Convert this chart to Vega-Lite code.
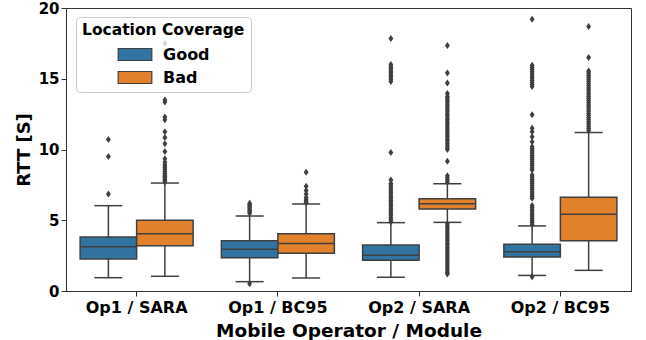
{
  "$schema": "https://vega.github.io/schema/vega-lite/v6.json",
  "width": 565,
  "height": 283,
  "autosize": "none",
  "padding": {"left": 66, "top": 8, "right": 15, "bottom": 49},
  "datasets": {
    "boxes": [
      {"group": "Op1 / SARA", "coverage": "Good", "lower": 0.94, "q1": 2.26, "median": 3.13, "q3": 3.82, "upper": 6.03},
      {"group": "Op1 / SARA", "coverage": "Bad", "lower": 1.04, "q1": 3.2, "median": 4.05, "q3": 5.0, "upper": 7.63},
      {"group": "Op1 / BC95", "coverage": "Good", "lower": 0.66, "q1": 2.35, "median": 2.95, "q3": 3.55, "upper": 5.3},
      {"group": "Op1 / BC95", "coverage": "Bad", "lower": 0.92, "q1": 2.66, "median": 3.35, "q3": 4.05, "upper": 6.15},
      {"group": "Op2 / SARA", "coverage": "Good", "lower": 0.97, "q1": 2.17, "median": 2.52, "q3": 3.25, "upper": 4.83},
      {"group": "Op2 / SARA", "coverage": "Bad", "lower": 4.85, "q1": 5.8, "median": 6.17, "q3": 6.52, "upper": 7.58},
      {"group": "Op2 / BC95", "coverage": "Good", "lower": 1.1, "q1": 2.4, "median": 2.78, "q3": 3.3, "upper": 4.6},
      {"group": "Op2 / BC95", "coverage": "Bad", "lower": 1.46, "q1": 3.56, "median": 5.42, "q3": 6.62, "upper": 11.2}
    ],
    "outliers": [
      {"group": "Op1 / SARA", "coverage": "Good", "rtt": 6.85},
      {"group": "Op1 / SARA", "coverage": "Good", "rtt": 9.5},
      {"group": "Op1 / SARA", "coverage": "Good", "rtt": 10.7},
      {"group": "Op1 / SARA", "coverage": "Bad", "rtt": 7.7},
      {"group": "Op1 / SARA", "coverage": "Bad", "rtt": 7.8},
      {"group": "Op1 / SARA", "coverage": "Bad", "rtt": 7.9},
      {"group": "Op1 / SARA", "coverage": "Bad", "rtt": 8.0},
      {"group": "Op1 / SARA", "coverage": "Bad", "rtt": 8.1},
      {"group": "Op1 / SARA", "coverage": "Bad", "rtt": 8.2},
      {"group": "Op1 / SARA", "coverage": "Bad", "rtt": 8.3},
      {"group": "Op1 / SARA", "coverage": "Bad", "rtt": 8.45},
      {"group": "Op1 / SARA", "coverage": "Bad", "rtt": 8.6},
      {"group": "Op1 / SARA", "coverage": "Bad", "rtt": 8.75},
      {"group": "Op1 / SARA", "coverage": "Bad", "rtt": 8.9},
      {"group": "Op1 / SARA", "coverage": "Bad", "rtt": 9.1},
      {"group": "Op1 / SARA", "coverage": "Bad", "rtt": 9.35},
      {"group": "Op1 / SARA", "coverage": "Bad", "rtt": 9.85},
      {"group": "Op1 / SARA", "coverage": "Bad", "rtt": 10.4},
      {"group": "Op1 / SARA", "coverage": "Bad", "rtt": 10.85},
      {"group": "Op1 / SARA", "coverage": "Bad", "rtt": 11.25},
      {"group": "Op1 / SARA", "coverage": "Bad", "rtt": 12.1},
      {"group": "Op1 / SARA", "coverage": "Bad", "rtt": 12.3},
      {"group": "Op1 / SARA", "coverage": "Bad", "rtt": 13.35},
      {"group": "Op1 / SARA", "coverage": "Bad", "rtt": 13.5},
      {"group": "Op1 / SARA", "coverage": "Bad", "rtt": 17.5},
      {"group": "Op1 / BC95", "coverage": "Good", "rtt": 5.5},
      {"group": "Op1 / BC95", "coverage": "Good", "rtt": 5.6},
      {"group": "Op1 / BC95", "coverage": "Good", "rtt": 5.7},
      {"group": "Op1 / BC95", "coverage": "Good", "rtt": 5.8},
      {"group": "Op1 / BC95", "coverage": "Good", "rtt": 5.9},
      {"group": "Op1 / BC95", "coverage": "Good", "rtt": 6.0},
      {"group": "Op1 / BC95", "coverage": "Good", "rtt": 6.1},
      {"group": "Op1 / BC95", "coverage": "Good", "rtt": 6.2},
      {"group": "Op1 / BC95", "coverage": "Good", "rtt": 0.52},
      {"group": "Op1 / BC95", "coverage": "Bad", "rtt": 6.25},
      {"group": "Op1 / BC95", "coverage": "Bad", "rtt": 6.35},
      {"group": "Op1 / BC95", "coverage": "Bad", "rtt": 6.45},
      {"group": "Op1 / BC95", "coverage": "Bad", "rtt": 6.6},
      {"group": "Op1 / BC95", "coverage": "Bad", "rtt": 6.85},
      {"group": "Op1 / BC95", "coverage": "Bad", "rtt": 7.1},
      {"group": "Op1 / BC95", "coverage": "Bad", "rtt": 7.4},
      {"group": "Op1 / BC95", "coverage": "Bad", "rtt": 8.4},
      {"group": "Op2 / SARA", "coverage": "Good", "rtt": 4.9},
      {"group": "Op2 / SARA", "coverage": "Good", "rtt": 5.05},
      {"group": "Op2 / SARA", "coverage": "Good", "rtt": 5.2},
      {"group": "Op2 / SARA", "coverage": "Good", "rtt": 5.35},
      {"group": "Op2 / SARA", "coverage": "Good", "rtt": 5.5},
      {"group": "Op2 / SARA", "coverage": "Good", "rtt": 5.65},
      {"group": "Op2 / SARA", "coverage": "Good", "rtt": 5.8},
      {"group": "Op2 / SARA", "coverage": "Good", "rtt": 5.95},
      {"group": "Op2 / SARA", "coverage": "Good", "rtt": 6.1},
      {"group": "Op2 / SARA", "coverage": "Good", "rtt": 6.25},
      {"group": "Op2 / SARA", "coverage": "Good", "rtt": 6.4},
      {"group": "Op2 / SARA", "coverage": "Good", "rtt": 6.55},
      {"group": "Op2 / SARA", "coverage": "Good", "rtt": 6.7},
      {"group": "Op2 / SARA", "coverage": "Good", "rtt": 6.85},
      {"group": "Op2 / SARA", "coverage": "Good", "rtt": 7.0},
      {"group": "Op2 / SARA", "coverage": "Good", "rtt": 7.15},
      {"group": "Op2 / SARA", "coverage": "Good", "rtt": 7.3},
      {"group": "Op2 / SARA", "coverage": "Good", "rtt": 7.45},
      {"group": "Op2 / SARA", "coverage": "Good", "rtt": 7.6},
      {"group": "Op2 / SARA", "coverage": "Good", "rtt": 7.85},
      {"group": "Op2 / SARA", "coverage": "Good", "rtt": 9.78},
      {"group": "Op2 / SARA", "coverage": "Good", "rtt": 14.8},
      {"group": "Op2 / SARA", "coverage": "Good", "rtt": 14.95},
      {"group": "Op2 / SARA", "coverage": "Good", "rtt": 15.1},
      {"group": "Op2 / SARA", "coverage": "Good", "rtt": 15.25},
      {"group": "Op2 / SARA", "coverage": "Good", "rtt": 15.4},
      {"group": "Op2 / SARA", "coverage": "Good", "rtt": 15.55},
      {"group": "Op2 / SARA", "coverage": "Good", "rtt": 15.7},
      {"group": "Op2 / SARA", "coverage": "Good", "rtt": 15.85},
      {"group": "Op2 / SARA", "coverage": "Good", "rtt": 16.0},
      {"group": "Op2 / SARA", "coverage": "Good", "rtt": 17.85},
      {"group": "Op2 / SARA", "coverage": "Bad", "rtt": 4.75},
      {"group": "Op2 / SARA", "coverage": "Bad", "rtt": 4.6},
      {"group": "Op2 / SARA", "coverage": "Bad", "rtt": 4.45},
      {"group": "Op2 / SARA", "coverage": "Bad", "rtt": 4.3},
      {"group": "Op2 / SARA", "coverage": "Bad", "rtt": 4.15},
      {"group": "Op2 / SARA", "coverage": "Bad", "rtt": 4.0},
      {"group": "Op2 / SARA", "coverage": "Bad", "rtt": 3.85},
      {"group": "Op2 / SARA", "coverage": "Bad", "rtt": 3.7},
      {"group": "Op2 / SARA", "coverage": "Bad", "rtt": 3.55},
      {"group": "Op2 / SARA", "coverage": "Bad", "rtt": 3.4},
      {"group": "Op2 / SARA", "coverage": "Bad", "rtt": 3.25},
      {"group": "Op2 / SARA", "coverage": "Bad", "rtt": 3.1},
      {"group": "Op2 / SARA", "coverage": "Bad", "rtt": 2.95},
      {"group": "Op2 / SARA", "coverage": "Bad", "rtt": 2.8},
      {"group": "Op2 / SARA", "coverage": "Bad", "rtt": 2.65},
      {"group": "Op2 / SARA", "coverage": "Bad", "rtt": 2.5},
      {"group": "Op2 / SARA", "coverage": "Bad", "rtt": 2.35},
      {"group": "Op2 / SARA", "coverage": "Bad", "rtt": 2.2},
      {"group": "Op2 / SARA", "coverage": "Bad", "rtt": 2.05},
      {"group": "Op2 / SARA", "coverage": "Bad", "rtt": 1.9},
      {"group": "Op2 / SARA", "coverage": "Bad", "rtt": 1.75},
      {"group": "Op2 / SARA", "coverage": "Bad", "rtt": 1.6},
      {"group": "Op2 / SARA", "coverage": "Bad", "rtt": 1.45},
      {"group": "Op2 / SARA", "coverage": "Bad", "rtt": 1.3},
      {"group": "Op2 / SARA", "coverage": "Bad", "rtt": 1.2},
      {"group": "Op2 / SARA", "coverage": "Bad", "rtt": 7.7},
      {"group": "Op2 / SARA", "coverage": "Bad", "rtt": 7.85},
      {"group": "Op2 / SARA", "coverage": "Bad", "rtt": 8.0},
      {"group": "Op2 / SARA", "coverage": "Bad", "rtt": 8.15},
      {"group": "Op2 / SARA", "coverage": "Bad", "rtt": 9.17},
      {"group": "Op2 / SARA", "coverage": "Bad", "rtt": 10.0},
      {"group": "Op2 / SARA", "coverage": "Bad", "rtt": 10.15},
      {"group": "Op2 / SARA", "coverage": "Bad", "rtt": 10.3},
      {"group": "Op2 / SARA", "coverage": "Bad", "rtt": 10.45},
      {"group": "Op2 / SARA", "coverage": "Bad", "rtt": 10.6},
      {"group": "Op2 / SARA", "coverage": "Bad", "rtt": 10.75},
      {"group": "Op2 / SARA", "coverage": "Bad", "rtt": 10.9},
      {"group": "Op2 / SARA", "coverage": "Bad", "rtt": 11.05},
      {"group": "Op2 / SARA", "coverage": "Bad", "rtt": 11.2},
      {"group": "Op2 / SARA", "coverage": "Bad", "rtt": 11.35},
      {"group": "Op2 / SARA", "coverage": "Bad", "rtt": 11.5},
      {"group": "Op2 / SARA", "coverage": "Bad", "rtt": 11.65},
      {"group": "Op2 / SARA", "coverage": "Bad", "rtt": 11.8},
      {"group": "Op2 / SARA", "coverage": "Bad", "rtt": 11.95},
      {"group": "Op2 / SARA", "coverage": "Bad", "rtt": 12.1},
      {"group": "Op2 / SARA", "coverage": "Bad", "rtt": 12.25},
      {"group": "Op2 / SARA", "coverage": "Bad", "rtt": 12.4},
      {"group": "Op2 / SARA", "coverage": "Bad", "rtt": 12.55},
      {"group": "Op2 / SARA", "coverage": "Bad", "rtt": 12.7},
      {"group": "Op2 / SARA", "coverage": "Bad", "rtt": 12.85},
      {"group": "Op2 / SARA", "coverage": "Bad", "rtt": 13.0},
      {"group": "Op2 / SARA", "coverage": "Bad", "rtt": 13.15},
      {"group": "Op2 / SARA", "coverage": "Bad", "rtt": 13.3},
      {"group": "Op2 / SARA", "coverage": "Bad", "rtt": 13.45},
      {"group": "Op2 / SARA", "coverage": "Bad", "rtt": 13.6},
      {"group": "Op2 / SARA", "coverage": "Bad", "rtt": 13.75},
      {"group": "Op2 / SARA", "coverage": "Bad", "rtt": 13.95},
      {"group": "Op2 / SARA", "coverage": "Bad", "rtt": 14.7},
      {"group": "Op2 / SARA", "coverage": "Bad", "rtt": 15.4},
      {"group": "Op2 / SARA", "coverage": "Bad", "rtt": 17.35},
      {"group": "Op2 / BC95", "coverage": "Good", "rtt": 1.0},
      {"group": "Op2 / BC95", "coverage": "Good", "rtt": 4.7},
      {"group": "Op2 / BC95", "coverage": "Good", "rtt": 4.85},
      {"group": "Op2 / BC95", "coverage": "Good", "rtt": 5.0},
      {"group": "Op2 / BC95", "coverage": "Good", "rtt": 5.15},
      {"group": "Op2 / BC95", "coverage": "Good", "rtt": 5.3},
      {"group": "Op2 / BC95", "coverage": "Good", "rtt": 5.45},
      {"group": "Op2 / BC95", "coverage": "Good", "rtt": 5.6},
      {"group": "Op2 / BC95", "coverage": "Good", "rtt": 5.75},
      {"group": "Op2 / BC95", "coverage": "Good", "rtt": 5.9},
      {"group": "Op2 / BC95", "coverage": "Good", "rtt": 6.05},
      {"group": "Op2 / BC95", "coverage": "Good", "rtt": 6.55},
      {"group": "Op2 / BC95", "coverage": "Good", "rtt": 6.7},
      {"group": "Op2 / BC95", "coverage": "Good", "rtt": 6.85},
      {"group": "Op2 / BC95", "coverage": "Good", "rtt": 7.0},
      {"group": "Op2 / BC95", "coverage": "Good", "rtt": 7.15},
      {"group": "Op2 / BC95", "coverage": "Good", "rtt": 7.3},
      {"group": "Op2 / BC95", "coverage": "Good", "rtt": 7.45},
      {"group": "Op2 / BC95", "coverage": "Good", "rtt": 7.6},
      {"group": "Op2 / BC95", "coverage": "Good", "rtt": 7.75},
      {"group": "Op2 / BC95", "coverage": "Good", "rtt": 7.9},
      {"group": "Op2 / BC95", "coverage": "Good", "rtt": 8.05},
      {"group": "Op2 / BC95", "coverage": "Good", "rtt": 8.2},
      {"group": "Op2 / BC95", "coverage": "Good", "rtt": 8.55},
      {"group": "Op2 / BC95", "coverage": "Good", "rtt": 8.7},
      {"group": "Op2 / BC95", "coverage": "Good", "rtt": 8.85},
      {"group": "Op2 / BC95", "coverage": "Good", "rtt": 9.0},
      {"group": "Op2 / BC95", "coverage": "Good", "rtt": 9.15},
      {"group": "Op2 / BC95", "coverage": "Good", "rtt": 9.3},
      {"group": "Op2 / BC95", "coverage": "Good", "rtt": 9.45},
      {"group": "Op2 / BC95", "coverage": "Good", "rtt": 9.6},
      {"group": "Op2 / BC95", "coverage": "Good", "rtt": 9.75},
      {"group": "Op2 / BC95", "coverage": "Good", "rtt": 9.9},
      {"group": "Op2 / BC95", "coverage": "Good", "rtt": 10.05},
      {"group": "Op2 / BC95", "coverage": "Good", "rtt": 10.2},
      {"group": "Op2 / BC95", "coverage": "Good", "rtt": 10.55},
      {"group": "Op2 / BC95", "coverage": "Good", "rtt": 10.9},
      {"group": "Op2 / BC95", "coverage": "Good", "rtt": 11.26},
      {"group": "Op2 / BC95", "coverage": "Good", "rtt": 11.5},
      {"group": "Op2 / BC95", "coverage": "Good", "rtt": 12.46},
      {"group": "Op2 / BC95", "coverage": "Good", "rtt": 14.45},
      {"group": "Op2 / BC95", "coverage": "Good", "rtt": 14.6},
      {"group": "Op2 / BC95", "coverage": "Good", "rtt": 14.75},
      {"group": "Op2 / BC95", "coverage": "Good", "rtt": 14.9},
      {"group": "Op2 / BC95", "coverage": "Good", "rtt": 15.05},
      {"group": "Op2 / BC95", "coverage": "Good", "rtt": 15.2},
      {"group": "Op2 / BC95", "coverage": "Good", "rtt": 15.35},
      {"group": "Op2 / BC95", "coverage": "Good", "rtt": 15.5},
      {"group": "Op2 / BC95", "coverage": "Good", "rtt": 15.65},
      {"group": "Op2 / BC95", "coverage": "Good", "rtt": 15.8},
      {"group": "Op2 / BC95", "coverage": "Good", "rtt": 15.95},
      {"group": "Op2 / BC95", "coverage": "Good", "rtt": 19.2},
      {"group": "Op2 / BC95", "coverage": "Bad", "rtt": 11.35},
      {"group": "Op2 / BC95", "coverage": "Bad", "rtt": 11.5},
      {"group": "Op2 / BC95", "coverage": "Bad", "rtt": 11.65},
      {"group": "Op2 / BC95", "coverage": "Bad", "rtt": 11.8},
      {"group": "Op2 / BC95", "coverage": "Bad", "rtt": 11.95},
      {"group": "Op2 / BC95", "coverage": "Bad", "rtt": 12.1},
      {"group": "Op2 / BC95", "coverage": "Bad", "rtt": 12.25},
      {"group": "Op2 / BC95", "coverage": "Bad", "rtt": 12.4},
      {"group": "Op2 / BC95", "coverage": "Bad", "rtt": 12.55},
      {"group": "Op2 / BC95", "coverage": "Bad", "rtt": 12.7},
      {"group": "Op2 / BC95", "coverage": "Bad", "rtt": 12.85},
      {"group": "Op2 / BC95", "coverage": "Bad", "rtt": 13.0},
      {"group": "Op2 / BC95", "coverage": "Bad", "rtt": 13.15},
      {"group": "Op2 / BC95", "coverage": "Bad", "rtt": 13.3},
      {"group": "Op2 / BC95", "coverage": "Bad", "rtt": 13.45},
      {"group": "Op2 / BC95", "coverage": "Bad", "rtt": 13.6},
      {"group": "Op2 / BC95", "coverage": "Bad", "rtt": 13.75},
      {"group": "Op2 / BC95", "coverage": "Bad", "rtt": 13.9},
      {"group": "Op2 / BC95", "coverage": "Bad", "rtt": 14.05},
      {"group": "Op2 / BC95", "coverage": "Bad", "rtt": 14.2},
      {"group": "Op2 / BC95", "coverage": "Bad", "rtt": 14.35},
      {"group": "Op2 / BC95", "coverage": "Bad", "rtt": 14.5},
      {"group": "Op2 / BC95", "coverage": "Bad", "rtt": 14.65},
      {"group": "Op2 / BC95", "coverage": "Bad", "rtt": 14.8},
      {"group": "Op2 / BC95", "coverage": "Bad", "rtt": 14.95},
      {"group": "Op2 / BC95", "coverage": "Bad", "rtt": 15.1},
      {"group": "Op2 / BC95", "coverage": "Bad", "rtt": 15.25},
      {"group": "Op2 / BC95", "coverage": "Bad", "rtt": 15.4},
      {"group": "Op2 / BC95", "coverage": "Bad", "rtt": 15.55},
      {"group": "Op2 / BC95", "coverage": "Bad", "rtt": 16.5},
      {"group": "Op2 / BC95", "coverage": "Bad", "rtt": 18.7}
    ]
  },
  "encoding": {
    "x": {
      "field": "group",
      "type": "nominal",
      "sort": ["Op1 / SARA", "Op1 / BC95", "Op2 / SARA", "Op2 / BC95"],
      "scale": {"paddingInner": 0.2, "paddingOuter": 0.1},
      "axis": {
        "title": "Mobile Operator / Module",
        "labelAngle": 0,
        "labelFontSize": 16,
        "titleFontSize": 18.5,
        "labelPadding": 3,
        "titlePadding": 6,
        "tickSize": 5,
        "bandPosition": 0.5
      }
    },
    "xOffset": {
      "field": "coverage",
      "type": "nominal",
      "sort": ["Good", "Bad"],
      "scale": {"paddingInner": 0, "paddingOuter": 0}
    }
  },
  "layer": [
    {
      "data": {"name": "boxes"},
      "mark": {"type": "rule", "color": "#3f3f3f", "strokeWidth": 1.5},
      "encoding": {
        "y": {
          "field": "lower",
          "type": "quantitative",
          "scale": {"domain": [0, 20], "nice": false},
          "axis": {
            "title": "RTT [S]",
            "values": [0, 5, 10, 15, 20],
            "labelFontSize": 15,
            "titleFontSize": 18,
            "tickSize": 5,
            "labelPadding": 2,
            "titlePadding": 5
          }
        },
        "y2": {"field": "upper"}
      }
    },
    {
      "data": {"name": "boxes"},
      "mark": {"type": "bar", "stroke": "#3f3f3f", "strokeWidth": 1.5, "opacity": 1},
      "encoding": {
        "y": {"field": "q1", "type": "quantitative"},
        "y2": {"field": "q3"},
        "color": {
          "field": "coverage",
          "type": "nominal",
          "scale": {"domain": ["Good", "Bad"], "range": ["#3274a1", "#e1812c"]},
          "legend": {
            "title": "Location Coverage",
            "orient": "none",
            "legendX": 10,
            "legendY": 9,
            "titleFontSize": 15.5,
            "titleFontWeight": "bold",
            "titleColor": "black",
            "labelFontSize": 16,
            "labelFontWeight": "bold",
            "labelColor": "black",
            "symbolType": "M-2.8,-1H2.8V1H-2.8Z",
            "symbolSize": 144,
            "symbolStrokeColor": "#3f3f3f",
            "symbolStrokeWidth": 1.2,
            "symbolOpacity": 1,
            "symbolOffset": 45,
            "labelOffset": 20,
            "fillColor": "rgba(255,255,255,0.8)",
            "strokeColor": "#cccccc",
            "cornerRadius": 4,
            "padding": 6,
            "rowPadding": 5,
            "titlePadding": 8
          }
        }
      }
    },
    {
      "data": {"name": "boxes"},
      "mark": {"type": "tick", "color": "#3f3f3f", "size": 56, "thickness": 1.5, "opacity": 1},
      "encoding": {"y": {"field": "median", "type": "quantitative"}}
    },
    {
      "data": {"name": "boxes"},
      "mark": {"type": "tick", "color": "#3f3f3f", "size": 28, "thickness": 1.5, "opacity": 1},
      "encoding": {"y": {"field": "upper", "type": "quantitative"}}
    },
    {
      "data": {"name": "boxes"},
      "mark": {"type": "tick", "color": "#3f3f3f", "size": 28, "thickness": 1.5, "opacity": 1},
      "encoding": {"y": {"field": "lower", "type": "quantitative"}}
    },
    {
      "data": {"name": "outliers"},
      "mark": {"type": "point", "shape": "M0,-1L0.7,0L0,1L-0.7,0Z", "filled": true, "color": "#3f3f3f", "size": 49, "opacity": 1},
      "encoding": {"y": {"field": "rtt", "type": "quantitative"}}
    }
  ],
  "config": {
    "font": "DejaVu Sans",
    "view": {"stroke": "#333333", "strokeWidth": 1},
    "axis": {
      "domainColor": "#333333",
      "tickColor": "#333333",
      "labelColor": "black",
      "titleColor": "black",
      "labelFontWeight": "bold",
      "titleFontWeight": "bold",
      "grid": false,
      "domainWidth": 1,
      "tickWidth": 1
    }
  }
}
